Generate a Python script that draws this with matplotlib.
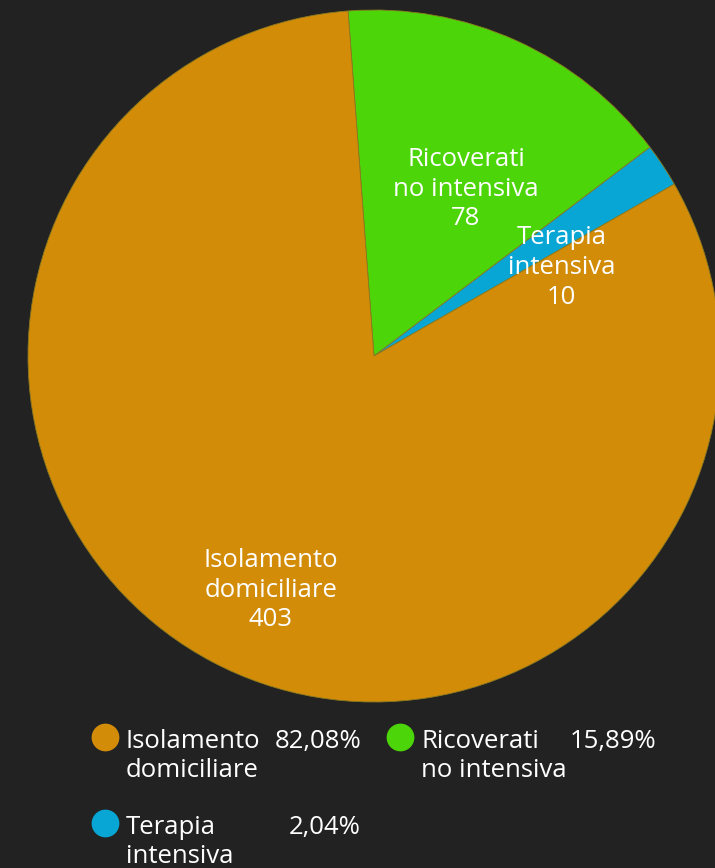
import numpy as np
import matplotlib.pyplot as plt

# Data
labels = ["Ricoverati\nno intensiva", "Terapia\nintensiva", "Isolamento\ndomiciliare"]
values = [78, 10, 403]
colors = ["#4CD508", "#08A6D4", "#D28C08"]
legend_order = [2, 0, 1]

BG = "#222222"
W, H = 715, 868
plt.rcParams['font.family'] = ['Open Sans', 'DejaVu Sans']
FS = 18.5

fig = plt.figure(figsize=(W / 100, H / 100), dpi=100, facecolor=BG)

# pie axes, pixel box: x 28..720, y 10..702
cx, cy, R = 374, 356, 346
ax = fig.add_axes([(cx - R) / W, 1 - (cy + R) / H, 2 * R / W, 2 * R / H])
ax.set_facecolor(BG)
wedges, _ = ax.pie(values, colors=colors, startangle=94.3, counterclock=False,
                   radius=1, wedgeprops=dict(linewidth=0.6, edgecolor="#8a7a20"))
ax.set_xlim(-1, 1)
ax.set_ylim(-1, 1)
ax.set_aspect('equal')
ax.axis('off')

# inner labels: radius fraction and angle offset from wedge middle
label_r = [0.55, 0.60, 0.74]
label_shift = [-4.6, -8.2, 4.2]
for w, lab, v, r, s in zip(wedges, labels, values, label_r, label_shift):
    ang = np.deg2rad((w.theta1 + w.theta2) / 2 + s)
    ax.text(r * np.cos(ang), r * np.sin(ang), f"{lab}\n{v}", ha='center', va='center',
            color='white', fontsize=FS, linespacing=1.24)

# legend drawn in pixel coordinates
lg = fig.add_axes([0, 0, 1, 1], facecolor='none')
lg.set_xlim(0, W)
lg.set_ylim(H, 0)
lg.axis('off')
total = sum(values)
# (marker x, text x, pct right x, first baseline y)
slots = [(105, 126, 361, 748), (400, 421, 656, 748), (105, 126, 361, 834)]
for (mx, tx, px, by), i in zip(slots, legend_order):
    lg.scatter([mx], [by - 11.5], s=360, color=colors[i], edgecolors=colors[i], zorder=3)
    for k, line in enumerate(labels[i].split("\n")):
        lg.text(tx, by + 29 * k, line, ha='left', va='baseline', color='white', fontsize=FS)
    pct = f"{values[i] / total * 100:.2f}%".replace('.', ',')
    lg.text(px, by, pct, ha='right', va='baseline', color='white', fontsize=FS)

fig.savefig("out.png", dpi=100, facecolor=BG)
